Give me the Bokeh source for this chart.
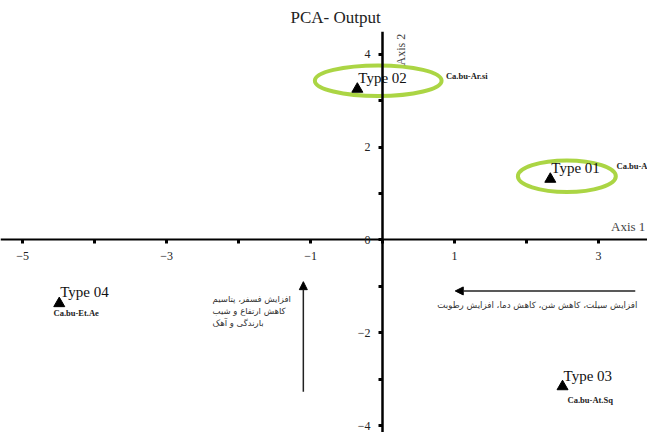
from bokeh.plotting import figure
from bokeh.models import (Range1d, FixedTicker, Label, Arrow, NormalHead,
                          ColumnDataSource)
from bokeh.core.properties import value
from bokeh.embed import file_html
from bokeh.resources import INLINE
import math

# ---- data -------------------------------------------------------------
types = ["Type 01", "Type 02", "Type 03", "Type 04"]
pc1 = [2.33, -0.35, 2.50, -4.49]
pc2 = [1.31, 3.25, -3.16, -1.37]

codes = ["Ca.bu-A", "Ca.bu-Ar.si", "Ca.bu-At.Sq", "Ca.bu-Et.Ae"]
code_x = [3.25, 0.88, 2.57, -4.57]
code_y = [1.60, 3.54, -3.45, -1.58]

# highlighted groups (ellipses)
ell_x = [2.56, -0.06]
ell_y = [1.37, 3.43]
ell_w = [1.36, 1.76]
ell_h = [0.68, 0.66]

x_major = [-5, -3, -1, 1, 3]
x_minor = [-4, -2, 0, 2]
y_major = [-4, -2, 0, 2, 4]
y_minor = [-3, -1, 1, 3]

# gradient arrows and their descriptions
arrow_x0 = [3.51, -1.10]
arrow_y0 = [-1.10, -3.27]
arrow_x1 = [1.01, -1.10]
arrow_y1 = [-1.10, -0.90]
driver_text = ["افزایش سیلت، کاهش شن، کاهش دما، افزایش رطوبت",
               "افزایش فسفر، پتاسیم\nکاهش ارتفاع و شیب\nبارندگی و آهک"]
driver_x = [0.76, -2.36]
driver_y = [-1.41, -1.16]

title = "PCA- Output"
axis1_label = "Axis 1"
axis2_label = "Axis 2"

# ---- figure -----------------------------------------------------------
p = figure(width=647, height=432, output_backend="svg", toolbar_location=None,
           x_range=Range1d(-5.306, 3.68), y_range=Range1d(-4.15, 4.49),
           min_border=0, title=title)
p.title.text_font = "Liberation Serif"
p.title.text_font_size = "17px"
p.title.text_font_style = "normal"
p.title.text_color = "#222222"
p.title.align = "left"
p.title.offset = 290
p.outline_line_color = None
p.grid.visible = False
p.background_fill_color = "white"

for ax, maj, mnr, lw in ((p.xaxis[0], x_major, x_minor, 2),
                         (p.yaxis[0], y_major, y_minor, 2.5)):
    ax.fixed_location = 0
    ax.ticker = FixedTicker(ticks=maj, minor_ticks=mnr)
    ax.axis_line_width = lw
    ax.axis_line_color = "black"
    ax.major_tick_in = 0
    ax.major_tick_out = 4
    ax.minor_tick_in = 0
    ax.minor_tick_out = 4
    ax.major_tick_line_width = 3
    ax.minor_tick_line_width = 3
    ax.major_label_text_font = "Liberation Serif"
    ax.major_label_text_font_size = "12px"
    ax.major_label_text_color = "#222222"
    ax.major_label_standoff = 8

# ellipses
p.ellipse(x=ell_x, y=ell_y, width=ell_w, height=ell_h, fill_color=None,
          line_color="#a6d33a", line_width=4, line_alpha=0.95)

src = ColumnDataSource(dict(x=pc1, y=pc2, t=types))
p.scatter("x", "y", source=src, marker="triangle", size=11, color="black")
p.text("x", "y", text="t", source=src, x_offset=1, y_offset=-11,
       text_font=value("Liberation Serif"), text_font_size="15px",
       text_baseline="middle", text_align="left", text_color="#111111")

csrc = ColumnDataSource(dict(x=code_x, y=code_y, t=codes))
p.text("x", "y", text="t", source=csrc, text_font=value("Liberation Serif"),
       text_font_size="8.5px", text_font_style="bold", text_baseline="middle",
       text_align="left", text_color="#222222")

# arrows
asrc = ColumnDataSource(dict(x0=arrow_x0, y0=arrow_y0, x1=arrow_x1, y1=arrow_y1))
p.add_layout(Arrow(end=NormalHead(size=8, fill_color="black", line_color="black"),
                   x_start="x0", y_start="y0", x_end="x1", y_end="y1",
                   source=asrc, line_width=1.5, line_color="#222222"))

p.add_layout(Label(x=driver_x[0], y=driver_y[0], text=driver_text[0],
                   text_font="DejaVu Sans", text_font_size="8.7px",
                   text_baseline="middle", text_align="left", text_color="#333333"))
p.add_layout(Label(x=driver_x[1], y=driver_y[1], text=driver_text[1],
                   text_font="DejaVu Sans", text_font_size="8.5px",
                   text_baseline="top", text_align="left", text_color="#333333"))

p.add_layout(Label(x=3.65, y=0.28, text=axis1_label, text_font="Liberation Serif",
                   text_font_size="13px", text_baseline="middle", text_align="right"))
p.add_layout(Label(x=0.26, y=4.10, text=axis2_label, text_font="Liberation Serif",
                   text_font_size="12px", text_baseline="middle", text_align="center",
                   angle=math.pi / 2))

open("out.html", "w").write(file_html(p, INLINE))
